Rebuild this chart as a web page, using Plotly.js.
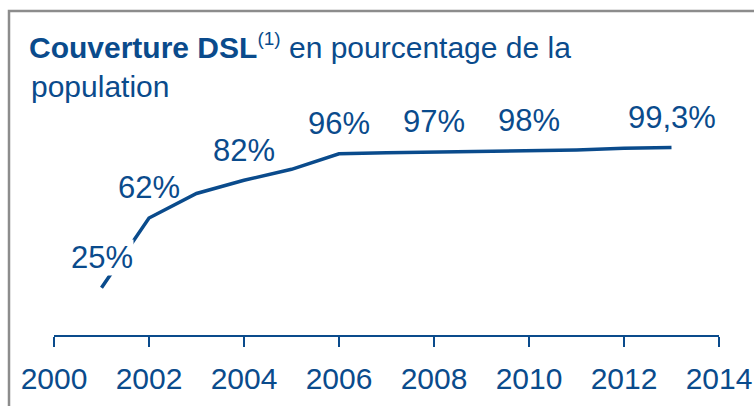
<!DOCTYPE html>
<html>
<head>
<meta charset="utf-8">
<script src="https://cdn.plot.ly/plotly-3.0.1.min.js"></script>
<style>
html, body { margin: 0; padding: 0; background: #ffffff; }
#chart { width: 754px; height: 406px; }
</style>
</head>
<body>
<div id="chart"></div>
<script>
// Data
const years = [2001, 2002, 2003, 2004, 2005, 2006, 2007, 2008, 2009, 2010, 2011, 2012, 2013];
const coverage = [25, 62, 75, 82, 87.8, 96, 96.6, 97, 97.2, 98, 98, 98.9, 99.3];
const labelYears = [2001, 2002, 2004, 2006, 2008, 2010, 2013];
const labelTexts = ['25%', '62%', '82%', '96%', '97%', '98%', '99,3%'];
const tickYears = [2000, 2002, 2004, 2006, 2008, 2010, 2012, 2014];
const tickTexts = ['2000', '2002', '2004', '2006', '2008', '2010', '2012', '2014'];

const BLUE = '#0a4b8c';
const FONT = '"Liberation Sans", Arial, Helvetica, sans-serif';

const annotations = labelYears.map((yr, i) => ({
  x: yr,
  y: coverage[years.indexOf(yr)],
  xref: 'x', yref: 'y',
  text: labelTexts[i],
  showarrow: false,
  xanchor: 'center', yanchor: 'middle',
  yshift: 30,
  font: { family: FONT, size: 31, color: BLUE },
  bgcolor: i === 0 ? '#ffffff' : 'rgba(0,0,0,0)',
  borderpad: 0
}));

annotations.push({
  xref: 'paper', yref: 'paper',
  x: -0.0376, y: 0.79,
  xanchor: 'left', yanchor: 'middle',
  text: 'population',
  showarrow: false,
  font: { family: FONT, size: 30, color: BLUE }
});

const layout = {
  width: 754, height: 406,
  margin: { l: 54, r: 35, t: 20, b: 71 },
  paper_bgcolor: '#ffffff', plot_bgcolor: '#ffffff',
  showlegend: false,
  title: {
    text: '<b>Couverture DSL</b><sup><span style="font-size:19px">(1)</span></sup> en pourcentage de la',
    xref: 'container', yref: 'container',
    x: 29 / 754, xanchor: 'left',
    y: 1 - 47 / 406, yanchor: 'middle',
    font: { family: FONT, size: 30, color: BLUE }
  },
  xaxis: {
    range: [2000, 2014],
    tickmode: 'array', tickvals: tickYears, ticktext: tickTexts,
    showline: true, linecolor: BLUE, linewidth: 2,
    ticks: 'outside', ticklen: 10, tickwidth: 2, tickcolor: BLUE,
    ticklabelstandoff: 6,
    showgrid: false, zeroline: false,
    tickfont: { family: FONT, size: 30, color: BLUE },
    fixedrange: true
  },
  yaxis: {
    range: [0, 166.9],
    visible: false, showgrid: false, zeroline: false,
    fixedrange: true
  },
  shapes: [{
    type: 'rect', xref: 'paper', yref: 'paper',
    x0: (9 - 54) / 665, x1: (770 - 54) / 665,
    y0: (335 - 430) / 315, y1: (335 - 11) / 315,
    line: { color: '#8c8c8c', width: 2.5 },
    fillcolor: 'rgba(0,0,0,0)'
  }],
  annotations: annotations
};

const trace = {
  type: 'scatter', mode: 'lines',
  x: years, y: coverage,
  line: { color: BLUE, width: 3.5 },
  hoverinfo: 'skip'
};

Plotly.newPlot('chart', [trace], layout, { displayModeBar: false, staticPlot: true });
</script>
</body>
</html>
